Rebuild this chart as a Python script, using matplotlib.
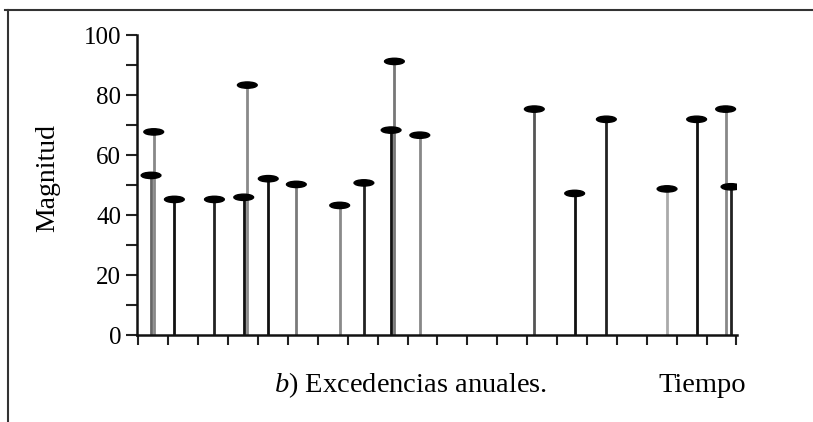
import matplotlib
matplotlib.use("Agg")
import matplotlib.pyplot as plt
from matplotlib.patches import Ellipse
from matplotlib.lines import Line2D

# annual exceedances: time (years) and magnitude
t_events = [0.42, 0.51, 1.20, 2.54, 3.52, 3.64, 4.34, 5.28, 6.73, 7.54,
            8.45, 8.56, 9.41, 13.24, 14.59, 15.65, 17.68, 18.67, 19.64, 19.82]
magnitude = [53.2, 67.7, 45.2, 45.2, 45.9, 83.3, 52.1, 50.2, 43.2, 50.7,
             68.3, 91.2, 66.6, 75.3, 47.2, 71.9, 48.7, 71.9, 75.3, 49.4]
year_ticks = list(range(0, 21))
mag_ticks = [0, 20, 40, 60, 80, 100]

# scanned look: some stems printed grey, some black
stem_shade = ["#666666", "#888888", "#111111", "#222222", "#111111", "#8a8a8a",
              "#111111", "#7a7a7a", "#8a8a8a", "#222222", "#111111", "#777777",
              "#888888", "#555555", "#111111", "#222222", "#aaaaaa", "#111111",
              "#888888", "#222222"]

plt.rcParams['font.family'] = ['Liberation Serif', 'DejaVu Serif']
plt.rcParams['mathtext.fontset'] = 'custom'
plt.rcParams['mathtext.it'] = 'Liberation Serif:italic'
plt.rcParams['mathtext.rm'] = 'Liberation Serif'

W, H = 813, 422
fig = plt.figure(figsize=(W / 100, H / 100), dpi=100)
ax = fig.add_axes([137 / W, (H - 335) / H, 600 / W, 300 / H])

for t, m, c in zip(t_events, magnitude, stem_shade):
    ax.plot([t, t], [0, m], color=c, lw=2.0, solid_capstyle='butt', zorder=2)
    ax.add_patch(Ellipse((t, m), 0.66, 2.1, color='black', zorder=3))

ax.set_xlim(-0.05, 20.02)
ax.set_ylim(0, 100)
ax.set_xticks(year_ticks)
ax.set_xticklabels([])
ax.set_yticks(mag_ticks)
ax.set_yticks([10, 30, 50, 70, 90], minor=True)
ax.tick_params(axis='x', direction='out', length=7, width=1.5, color='#222222')
ax.tick_params(axis='y', which='both', direction='out', length=8, width=1.5,
               labelsize=18, pad=3.5, color='#222222')
for s in ['top', 'right']:
    ax.spines[s].set_visible(False)
for s in ['left', 'bottom']:
    ax.spines[s].set_linewidth(1.8)
    ax.spines[s].set_color('#111111')

fig.text(48 / W, 1 - 178 / H, "Magnitud", fontsize=20, rotation=90,
         ha='center', va='center')
fig.text(274 / W, 1 - 392 / H, r"$\mathit{b}$) Excedencias anuales.", fontsize=20.5,
         ha='left', va='baseline')
fig.text(746 / W, 1 - 392 / H, "Tiempo", fontsize=20.5, ha='right', va='baseline')

# page border of the scan
fig.add_artist(Line2D([5 / W, 1], [1 - 9.5 / H, 1 - 9.5 / H], color='#333333', lw=1.5))
fig.add_artist(Line2D([8 / W, 8 / W], [0, 1 - 9.5 / H], color='#333333', lw=1.5))

fig.savefig("out.png", dpi=100)
